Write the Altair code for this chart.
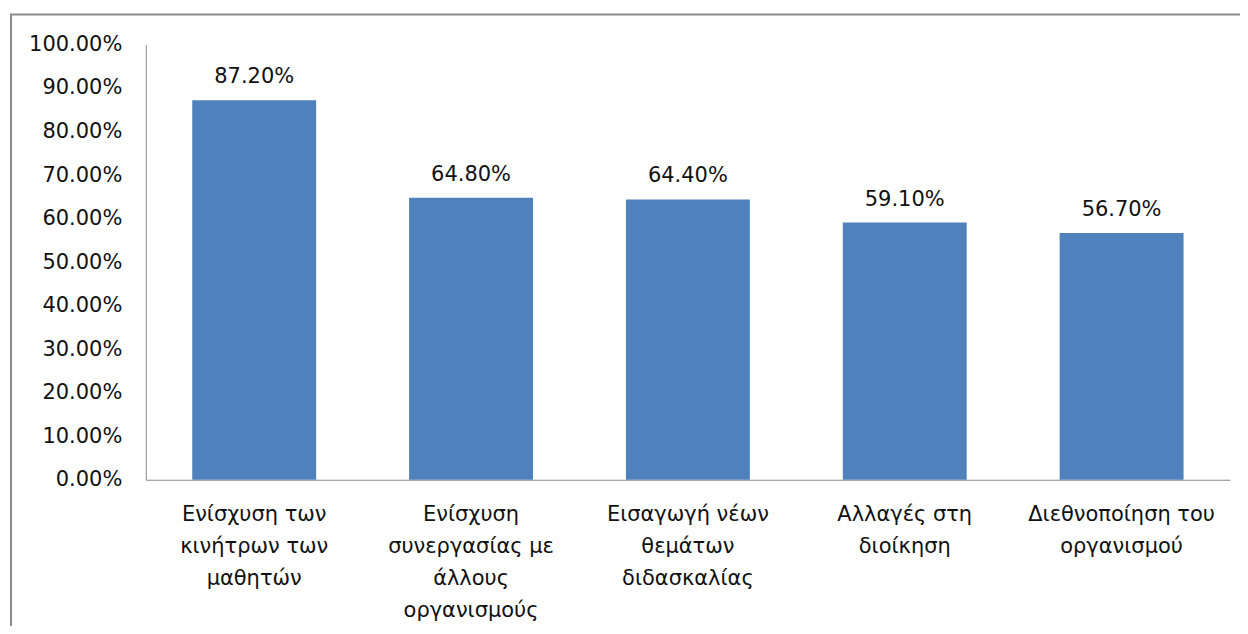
import altair as alt
import pandas as pd

categories = [
    "Ενίσχυση των\nκινήτρων των\nμαθητών",
    "Ενίσχυση\nσυνεργασίας με\nάλλους\nοργανισμούς",
    "Εισαγωγή νέων\nθεμάτων\nδιδασκαλίας",
    "Αλλαγές στη\nδιοίκηση",
    "Διεθνοποίηση του\nοργανισμού",
]
values = [0.872, 0.648, 0.644, 0.591, 0.567]

df = pd.DataFrame({"cat": categories, "val": values})

FONT = "DejaVu Sans"
FS = 21

x = alt.X("cat:N", sort=categories, title=None,
          scale=alt.Scale(paddingInner=0.4286, paddingOuter=0.2143),
          axis=alt.Axis(labelAngle=0, labelExpr="split(datum.label, '\\n')",
                        labelLineHeight=32, labelPadding=24, ticks=False,
                        labelBaseline="top", labelFont=FONT, labelFontSize=FS,
                        labelColor="#111111", domainColor="#8a8a8a",
                        labelLimit=300))
y = alt.Y("val:Q", title=None,
          scale=alt.Scale(domain=[0, 1]),
          axis=alt.Axis(format=".2%", values=[i / 10 for i in range(11)],
                        ticks=False, grid=False, labelPadding=24,
                        labelFont=FONT, labelFontSize=FS, labelColor="#111111",
                        domainColor="#8a8a8a"))

bars = alt.Chart(df).mark_bar(color="#4F81BD").encode(x=x, y=y)
labels = alt.Chart(df).mark_text(baseline="bottom", dy=-13, font=FONT,
                                 fontSize=FS, color="#111111").encode(
    x=alt.X("cat:N", sort=categories), y="val:Q",
    text=alt.Text("val:Q", format=".2%"))

frame = alt.Chart(pd.DataFrame({"k": [0]})).mark_rect(
    fill=None, stroke="#8c8c8c", strokeWidth=2, clip=False).encode(
    x=alt.value(-135), x2=alt.value(1150), y=alt.value(-30), y2=alt.value(700))

chart = alt.layer(frame, bars, labels).properties(
    width=1086, height=436,
    background="white",
    autosize=alt.AutoSizeParams(type="none"),
    padding={"left": 138, "top": 36, "right": 10, "bottom": 146},
).configure_view(stroke="transparent", strokeWidth=0)

chart.save("out.html", embed_options={"renderer": "svg", "actions": False})
